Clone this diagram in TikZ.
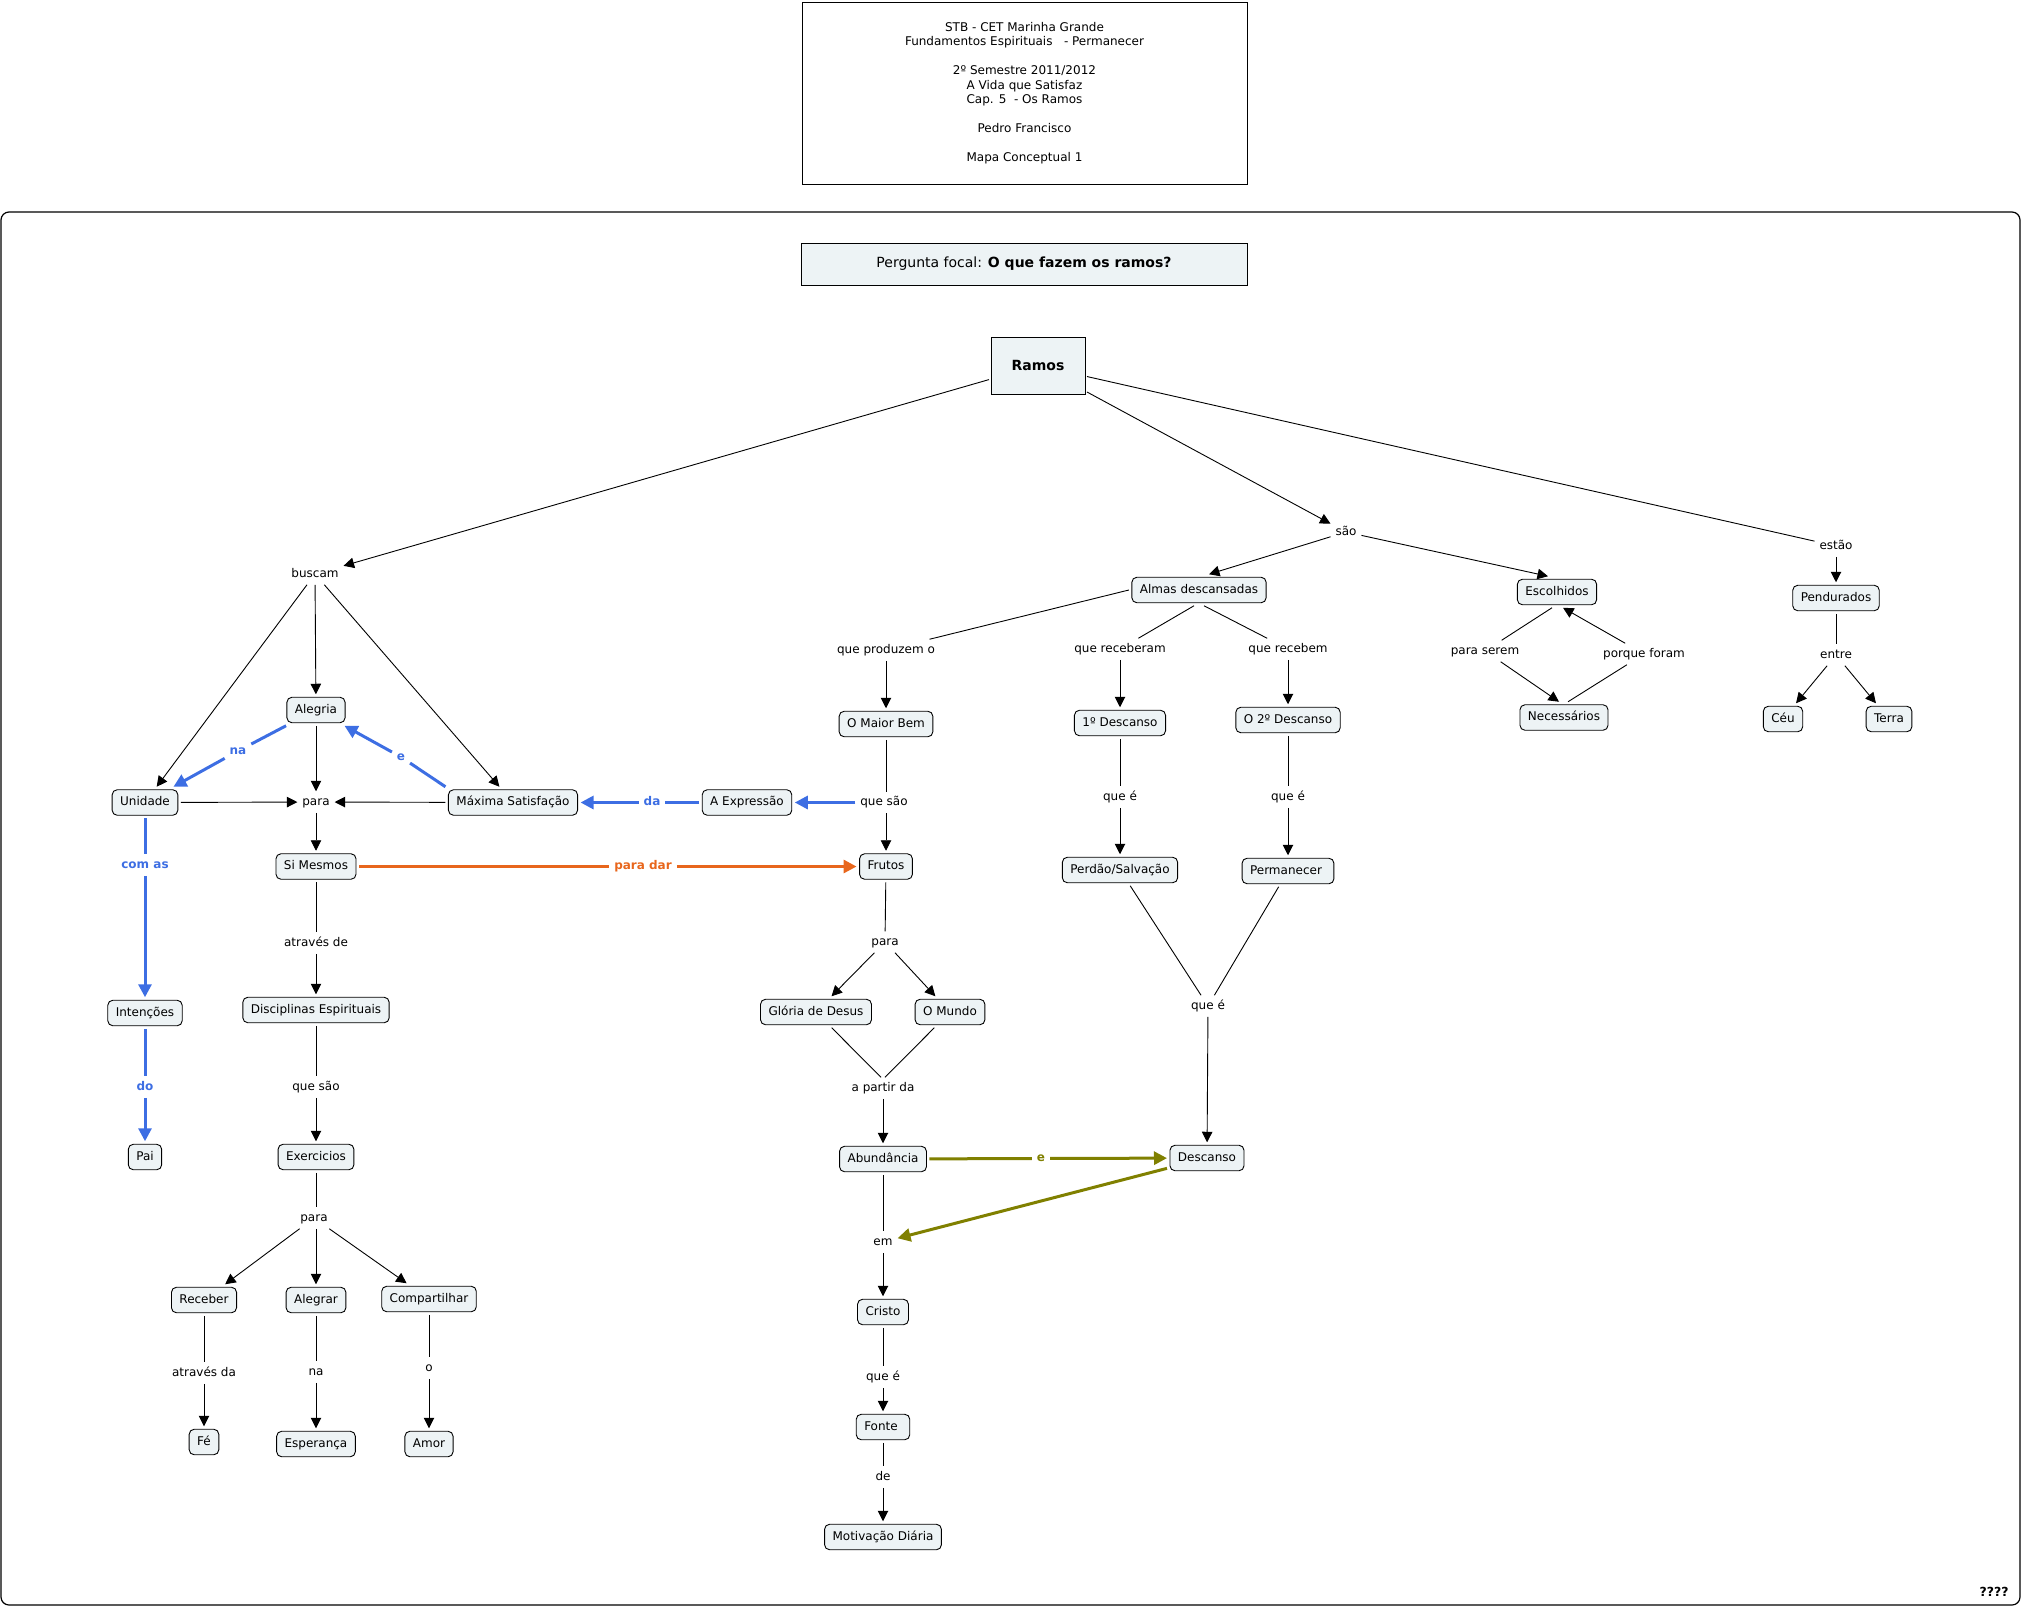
\documentclass[tikz,border=0pt]{standalone}
\usepackage{fontspec}
\setmainfont{DejaVu Sans}
\usetikzlibrary{arrows.meta}
\definecolor{cfill}{HTML}{EDF3F5}
\definecolor{cblue}{HTML}{3D6EE3}
\definecolor{corange}{HTML}{E8661C}
\definecolor{colive}{HTML}{808000}
\tikzset{
  concept/.style={draw=black, line width=0.9pt, fill=cfill, rounded corners=5pt,
    inner xsep=8pt, inner ysep=7pt, text height=9pt, text depth=2.5pt,
    font=\fontsize{12}{14.5}\selectfont, outer sep=3pt},
  linkp/.style={inner xsep=2pt, inner ysep=2pt, text height=9pt, text depth=2.5pt,
    font=\fontsize{12}{14.5}\selectfont, outer sep=3pt},
  bluelink/.style={linkp, font=\fontsize{12}{14.5}\selectfont\bfseries, text=cblue},
  orangelink/.style={linkp, font=\fontsize{12}{14.5}\selectfont\bfseries, text=corange},
  olivelink/.style={linkp, font=\fontsize{12}{14.5}\selectfont\bfseries, text=colive},
  conn/.style={draw=black, line width=0.9pt},
  arr/.style={conn, -{Triangle[length=10.5pt,width=10.5pt]}},
  bconn/.style={draw=cblue, line width=3pt},
  barr/.style={bconn, -{Triangle[length=13pt,width=13pt]}},
  oconn/.style={draw=corange, line width=3pt},
  oarr/.style={oconn, -{Triangle[length=13pt,width=13pt]}},
  gconn/.style={draw=colive, line width=3pt},
  garr/.style={gconn, -{Triangle[length=13pt,width=13pt]}},
}
\begin{document}
\begin{tikzpicture}[x=1pt,y=-1pt]
\useasboundingbox (0,0) rectangle (2022,1607);
% frame
\draw[line width=1.2pt, rounded corners=8pt] (1,212) rectangle (2020,1605);
% title
\node[draw, line width=1pt, minimum width=445pt, minimum height=182pt, align=center,
  font=\fontsize{12}{14.5}\selectfont, inner sep=0pt] (title) at (1024.5,93)
  {STB - CET Marinha Grande\\Fundamentos Espirituais\ \ \ - Permanecer\\\mbox{}\\2º Semestre 2011/2012\\A Vida que Satisfaz\\Cap. 5\ \ - Os Ramos\\\mbox{}\\Pedro Francisco\\\mbox{}\\Mapa Conceptual 1};
\node[draw, line width=1pt, fill=cfill, minimum width=446pt, minimum height=42pt,
  font=\fontsize{14}{16}\selectfont] (focal) at (1024,264) {Pergunta focal: \textbf{O que fazem os ramos?}};
\node[draw, line width=1pt, fill=cfill, minimum width=94pt, minimum height=57pt,
  font=\fontsize{14}{16}\selectfont\bfseries, outer sep=2pt] (ramos) at (1038,365.5) {Ramos};
\node[font=\fontsize{12.5}{14}\selectfont\bfseries] (qqqq) at (1994,1592) {????};

% left part
\node[linkp] (buscam) at (315,574) {buscam};
\node[concept] (alegria) at (316,710) {Alegria};
\node[concept] (unidade) at (145,802.5) {Unidade};
\node[linkp] (paraA) at (316,802) {para};
\node[concept] (maxima) at (513,802.5) {Máxima Satisfação};
\node[concept] (simesmos) at (316,866.5) {Si Mesmos};
\node[linkp] (atravesde) at (316,943) {através de};
\node[concept] (disciplinas) at (316,1010) {Disciplinas Espirituais};
\node[linkp] (quesaoA) at (316,1087) {que são};
\node[concept] (exercicios) at (316,1157) {Exercicios};
\node[linkp] (paraB) at (314,1218) {para};
\node[concept] (receber) at (204,1300) {Receber};
\node[concept] (alegrar) at (316,1300) {Alegrar};
\node[concept] (compartilhar) at (429,1299) {Compartilhar};
\node[linkp] (atravesda) at (204,1373) {através da};
\node[linkp] (naB) at (316,1372) {na};
\node[linkp] (oo) at (429,1368) {o};
\node[concept] (fe) at (204,1442) {Fé};
\node[concept] (esperanca) at (316,1444) {Esperança};
\node[concept] (amor) at (429,1444) {Amor};
\node[bluelink] (comas) at (145,865) {com as};
\node[concept] (intencoes) at (145,1013) {Intenções};
\node[bluelink] (doo) at (145,1087) {do};
\node[concept] (pai) at (145,1157) {Pai};
\node[bluelink] (naA) at (238,751) {na};
\node[bluelink] (eA) at (401,757) {e};

% middle part
\node[linkp] (qpo) at (886,650) {que produzem o};
\node[concept] (maiorbem) at (886,724) {O Maior Bem};
\node[linkp] (quesaoB) at (884,802.5) {que são};
\node[concept] (expressao) at (747,802.5) {A Expressão};
\node[bluelink] (da) at (652,802.5) {da};
\node[concept] (frutos) at (886,866.5) {Frutos};
\node[orangelink] (paradar) at (643,866.5) {para dar};
\node[linkp] (paraC) at (885,942) {para};
\node[concept] (gloria) at (816,1012) {Glória de Desus};
\node[concept] (mundo) at (950,1012) {O Mundo};
\node[linkp] (apartir) at (883,1088) {a partir da};
\node[concept] (abund) at (883,1159) {Abundância};
\node[olivelink] (eO) at (1041,1158.5) {e};
\node[concept] (descanso) at (1207,1158) {Descanso};
\node[linkp] (em) at (883,1242) {em};
\node[concept] (cristo) at (883,1312) {Cristo};
\node[linkp] (queeC) at (883,1377) {que é};
\node[concept] (fonte) at (883,1427) {Fonte\kern4pt};
\node[linkp] (de) at (883,1477) {de};
\node[concept] (motivacao) at (883,1537) {Motivação Diária};

% right part
\node[linkp] (sao) at (1346,532) {são};
\node[concept] (almas) at (1199,590) {Almas descansadas};
\node[concept] (escolhidos) at (1557,592) {Escolhidos};
\node[linkp] (qreceberam) at (1120,649) {que receberam};
\node[linkp] (qrecebem) at (1288,649) {que recebem};
\node[concept] (desc1) at (1120,723) {1º Descanso};
\node[concept] (desc2) at (1288,720) {O 2º Descanso};
\node[linkp] (queeA) at (1120,797) {que é};
\node[linkp] (queeB) at (1288,797) {que é};
\node[concept] (perdao) at (1120,870) {Perdão/Salvação};
\node[concept] (permanecer) at (1288,871) {Permanecer\kern4pt};
\node[linkp] (queeD) at (1208,1006) {que é};
\node[linkp] (paraserem) at (1485,651) {para serem};
\node[linkp] (porqueforam) at (1644,654) {porque foram};
\node[concept] (necessarios) at (1564,717.5) {Necessários};
\node[linkp] (estao) at (1836,546) {estão};
\node[concept] (pendurados) at (1836,598) {Pendurados};
\node[linkp] (entre) at (1836,655) {entre};
\node[concept] (ceu) at (1783,719) {Céu};
\node[concept] (terra) at (1889,719) {Terra};

% connectors: Ramos
\draw[arr] (ramos) -- (buscam);
\draw[arr] (ramos) -- (sao);
\draw[conn] (ramos) -- (estao);
% left
\draw[arr] (buscam) -- (unidade);
\draw[arr] (buscam) -- (alegria);
\draw[arr] (buscam) -- (maxima);
\draw[bconn] (alegria) -- (naA);
\draw[barr] (naA) -- (unidade);
\draw[bconn] (maxima.north west) -- (eA);
\draw[barr] (eA) -- (alegria);
\draw[arr] (unidade) -- (paraA);
\draw[arr] (alegria) -- (paraA);
\draw[arr] (maxima) -- (paraA);
\draw[arr] (paraA) -- (simesmos);
\draw[bconn] (unidade) -- (comas);
\draw[barr] (comas) -- (intencoes);
\draw[bconn] (intencoes) -- (doo);
\draw[barr] (doo) -- (pai);
\draw[conn] (simesmos) -- (atravesde);
\draw[arr] (atravesde) -- (disciplinas);
\draw[conn] (disciplinas) -- (quesaoA);
\draw[arr] (quesaoA) -- (exercicios);
\draw[conn] (exercicios.south) -- (exercicios.south |- paraB.north);
\draw[arr] (paraB) -- (receber);
\draw[arr] (alegrar.north |- paraB.south) -- (alegrar);
\draw[arr] (paraB) -- (compartilhar);
\draw[conn] (receber) -- (atravesda);
\draw[arr] (atravesda) -- (fe);
\draw[conn] (alegrar) -- (naB);
\draw[arr] (naB) -- (esperanca);
\draw[conn] (compartilhar) -- (oo);
\draw[arr] (oo) -- (amor);
% middle
\draw[conn] (almas.west) -- (qpo);
\draw[arr] (qpo) -- (maiorbem);
\draw[conn] (maiorbem.south) -- (maiorbem.south |- quesaoB.north);
\draw[arr] (frutos.north |- quesaoB.south) -- (frutos);
\draw[barr] (quesaoB) -- (expressao);
\draw[bconn] (expressao) -- (da);
\draw[barr] (da) -- (maxima);
\draw[oconn] (simesmos) -- (paradar);
\draw[oarr] (paradar) -- (frutos);
\draw[conn] (frutos) -- (paraC);
\draw[arr] (paraC) -- (gloria);
\draw[arr] (paraC) -- (mundo);
\draw[conn] (gloria) -- ([xshift=-2pt]apartir.north);
\draw[conn] (mundo) -- ([xshift=2pt]apartir.north);
\draw[arr] (apartir) -- (abund);
\draw[gconn] (abund) -- (eO);
\draw[garr] (eO) -- (descanso);
\draw[garr] (descanso) -- (em);
\draw[conn] (abund) -- (em);
\draw[arr] (em) -- (cristo);
\draw[conn] (cristo) -- (queeC);
\draw[arr] (queeC) -- (fonte);
\draw[conn] (fonte) -- (de);
\draw[arr] (de) -- (motivacao);
% right
\draw[arr] (sao) -- ([xshift=10pt]almas.north);
\draw[arr] (sao) -- ([xshift=-9pt]escolhidos.north);
\draw[conn] ([xshift=-5pt]almas.south) -- (qreceberam);
\draw[arr] (qreceberam) -- (desc1);
\draw[conn] ([xshift=5pt]almas.south) -- (qrecebem);
\draw[arr] (qrecebem) -- (desc2);
\draw[conn] (desc1) -- (queeA);
\draw[arr] (queeA) -- (perdao);
\draw[conn] (desc2) -- (queeB);
\draw[arr] (queeB) -- (permanecer);
\draw[conn] (perdao) -- (queeD);
\draw[conn] (permanecer) -- (queeD);
\draw[arr] (queeD) -- (descanso);
\draw[conn] ([xshift=-5pt]escolhidos.south) -- (paraserem);
\draw[arr] (paraserem) -- ([xshift=-5pt]necessarios.north);
\draw[conn] ([xshift=4pt]necessarios.north) -- (porqueforam);
\draw[arr] (porqueforam) -- ([xshift=6pt]escolhidos.south);
\draw[arr] (estao) -- (pendurados);
\draw[conn] (pendurados) -- (entre);
\draw[arr] (entre) -- (ceu);
\draw[arr] (entre) -- (terra);
\end{tikzpicture}
\end{document}
